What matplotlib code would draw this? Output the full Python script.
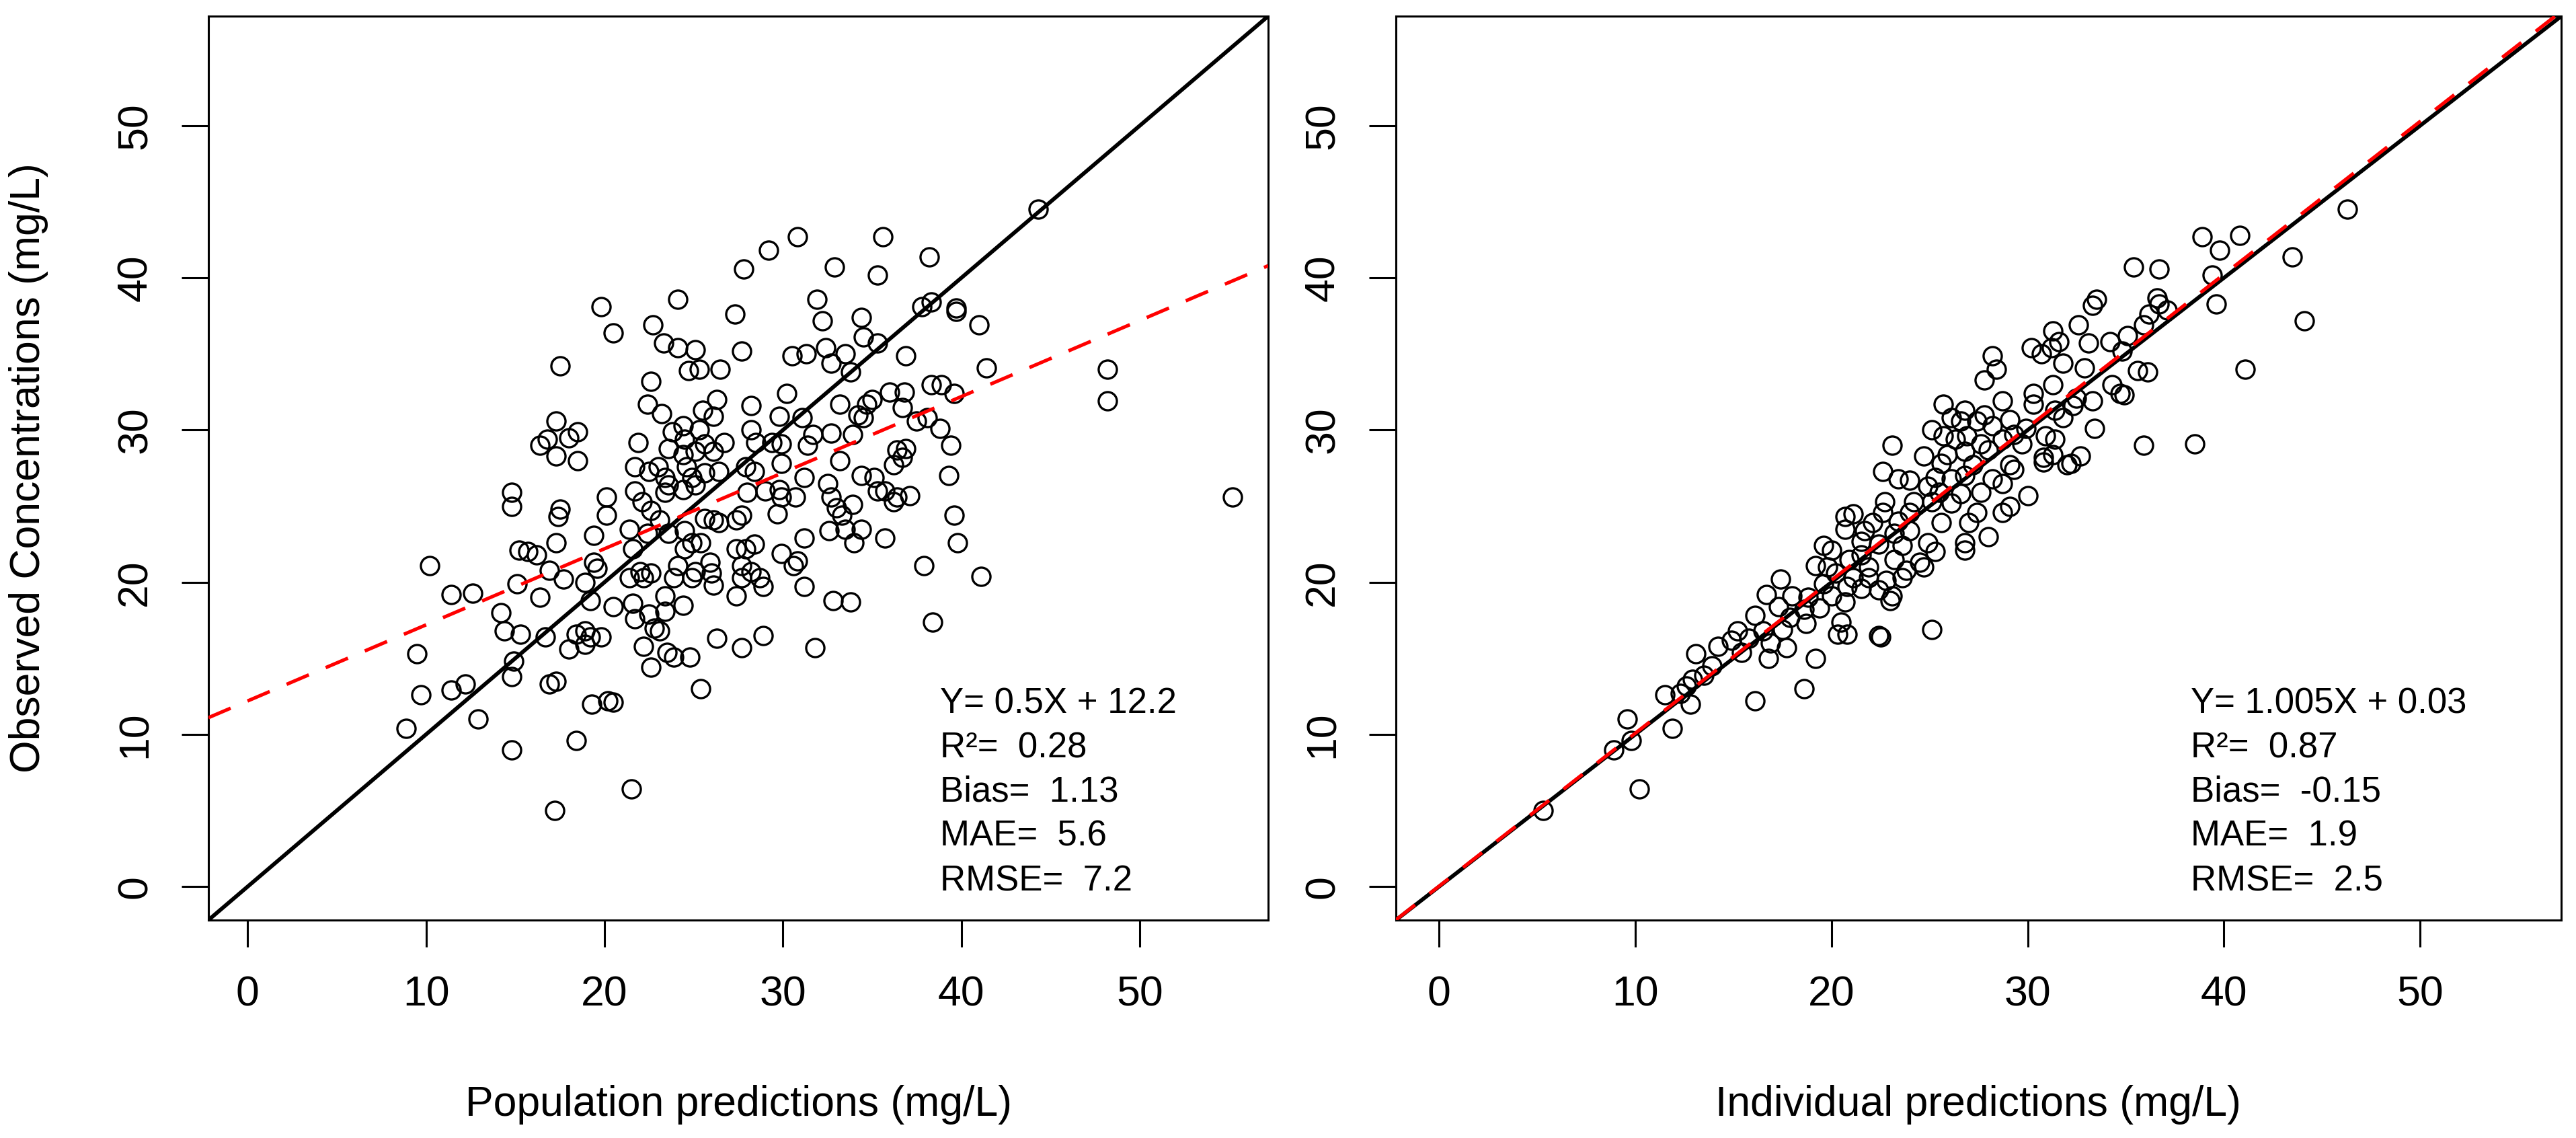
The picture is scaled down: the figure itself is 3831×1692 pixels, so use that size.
import numpy as np
import matplotlib.pyplot as plt

plt.rcParams['font.family'] = ['Liberation Sans', 'DejaVu Sans']

# ---------------------------------------------------------
# data: (prediction, observed) pairs
# ---------------------------------------------------------
pop_points = [
    (44.3, 44.5), (30.8, 42.7), (29.2, 41.8), (35.6, 42.7), (38.2, 41.4),
    (27.8, 40.6), (32.9, 40.7), (35.3, 40.2), (19.8, 38.1), (24.1, 38.6),
    (27.3, 37.6), (31.9, 38.6), (37.8, 38.1), (38.3, 38.4), (39.7, 38.0),
    (39.7, 37.8), (32.2, 37.2), (34.4, 37.4), (41.0, 36.9), (20.5, 36.4),
    (22.7, 36.9), (34.5, 36.1), (23.3, 35.7), (24.1, 35.4), (25.1, 35.3),
    (27.7, 35.2), (32.4, 35.4), (35.3, 35.7), (17.5, 34.2), (30.5, 34.9),
    (31.3, 35.0), (33.5, 35.0), (36.9, 34.9), (32.7, 34.4), (41.4, 34.1),
    (24.7, 33.9), (25.3, 34.0), (26.5, 34.0), (33.8, 33.8), (48.2, 34.0),
    (38.3, 33.0), (38.9, 33.0), (39.6, 32.4), (36.0, 32.5), (36.8, 32.5),
    (35.0, 32.0), (34.7, 31.7), (33.2, 31.7), (48.2, 31.9), (17.3, 30.6),
    (36.7, 31.5), (34.2, 31.0), (34.5, 30.8), (31.1, 30.8), (18.5, 29.9),
    (18.0, 29.5), (16.8, 29.4), (16.4, 29.0), (17.3, 28.3), (18.5, 28.0),
    (31.7, 29.7), (32.7, 29.8), (33.9, 29.7), (37.5, 30.6), (38.1, 30.8),
    (38.8, 30.1), (39.4, 29.0), (31.4, 29.0), (36.4, 28.7), (36.9, 28.8),
    (36.7, 28.2), (36.2, 27.7), (33.2, 28.0), (31.2, 26.9), (32.5, 26.5),
    (34.4, 27.0), (35.1, 26.9), (39.3, 27.0), (35.3, 26.0), (35.7, 26.0),
    (36.4, 25.6), (37.1, 25.7), (36.2, 25.3), (55.2, 25.6), (14.8, 25.9),
    (14.8, 25.0), (30.7, 25.6), (32.7, 25.6), (33.0, 24.9), (33.3, 24.4),
    (33.9, 25.1), (17.5, 24.8), (17.4, 24.3), (32.6, 23.4), (33.5, 23.5),
    (34.4, 23.5), (39.6, 24.4), (31.2, 22.9), (35.7, 22.9), (34.0, 22.6),
    (39.8, 22.6), (17.3, 22.6), (15.2, 22.1), (15.7, 22.0), (16.2, 21.8),
    (10.2, 21.1), (30.6, 21.1), (30.8, 21.4), (37.9, 21.1), (16.9, 20.8),
    (17.7, 20.2), (31.2, 19.7), (41.1, 20.4), (15.1, 19.9), (11.4, 19.2),
    (12.6, 19.3), (16.4, 19.0), (32.8, 18.8), (33.8, 18.7), (14.2, 18.0),
    (14.4, 16.8), (15.3, 16.6), (16.7, 16.4), (18.4, 16.6), (18.9, 16.8),
    (19.2, 16.4), (19.8, 16.4), (23.1, 16.8), (38.4, 17.4), (18.0, 15.6),
    (18.9, 15.9), (22.2, 15.8), (23.5, 15.4), (23.9, 15.1), (24.8, 15.1),
    (26.3, 16.3), (27.7, 15.7), (28.9, 16.5), (31.8, 15.7), (9.5, 15.3),
    (14.9, 14.8), (14.8, 13.8), (22.6, 14.4), (25.4, 13.0), (16.9, 13.3),
    (17.3, 13.5), (11.4, 12.9), (12.2, 13.3), (9.7, 12.6), (12.9, 11.0),
    (8.9, 10.4), (19.3, 12.0), (20.2, 12.2), (20.5, 12.1), (14.8, 9.0),
    (18.4, 9.6), (21.5, 6.4), (17.2, 5.0),
    # dense core, read from a closer look
    (22.6, 33.2), (22.4, 31.7), (23.2, 31.1), (26.3, 32.0), (25.5, 31.3),
    (26.1, 30.9), (28.2, 31.6), (30.2, 32.4), (29.8, 30.9), (21.9, 29.2),
    (23.8, 29.9), (24.4, 30.3), (24.5, 29.4), (25.3, 30.0), (25.6, 29.1),
    (26.7, 29.2), (28.2, 30.0), (28.5, 29.2), (29.4, 29.2), (29.9, 29.1),
    (23.6, 28.8), (24.4, 28.4), (25.1, 28.6), (26.1, 28.6), (21.7, 27.6),
    (22.5, 27.3), (23.0, 27.6), (23.4, 26.9), (23.6, 26.4), (24.6, 27.6),
    (24.9, 26.9), (25.6, 27.2), (26.4, 27.3), (27.9, 27.6), (28.4, 27.3),
    (29.9, 27.8), (21.7, 26.0), (22.1, 25.3), (22.6, 24.7), (23.4, 25.9),
    (24.4, 26.1), (25.1, 26.4), (28.0, 25.9), (29.0, 26.0), (29.8, 26.1),
    (29.9, 25.6), (29.7, 24.5), (20.1, 25.6), (20.1, 24.4), (21.4, 23.5),
    (19.4, 23.1), (23.1, 24.1), (25.6, 24.2), (26.1, 24.1), (26.4, 23.9),
    (27.4, 24.1), (27.7, 24.4), (22.4, 23.2), (23.6, 23.2), (24.5, 23.4),
    (24.9, 22.6), (25.4, 22.6), (24.5, 22.2), (21.6, 22.2), (19.4, 21.3),
    (19.6, 20.9), (21.4, 20.3), (22.0, 20.7), (22.2, 20.3), (22.6, 20.6),
    (24.1, 21.1), (25.1, 20.7), (25.9, 21.3), (26.0, 20.6), (26.1, 19.8),
    (24.9, 20.3), (23.9, 20.3), (27.4, 22.2), (27.9, 22.2), (28.4, 22.5),
    (27.7, 21.1), (28.2, 20.7), (27.7, 20.3), (28.7, 20.3), (28.9, 19.7),
    (27.4, 19.1), (29.9, 21.9), (18.9, 20.0), (19.2, 18.8), (20.5, 18.4),
    (21.6, 18.6), (21.7, 17.6), (22.5, 17.9), (23.4, 19.1), (23.4, 18.1),
    (24.4, 18.5), (22.8, 17.0),
]

ind_points = [
    (46.3, 44.5), (38.9, 42.7), (40.8, 42.8), (39.8, 41.8), (43.5, 41.4),
    (35.4, 40.7), (36.7, 40.6), (39.4, 40.2), (33.5, 38.6), (33.3, 38.2),
    (36.6, 38.7), (36.7, 38.3), (37.1, 37.9), (39.6, 38.3), (44.1, 37.2),
    (36.2, 37.6), (35.9, 36.9), (32.6, 36.9), (31.3, 36.5), (35.1, 36.2),
    (34.2, 35.8), (33.1, 35.7), (30.2, 35.4), (31.2, 35.4), (31.6, 35.8),
    (30.7, 35.0), (28.2, 34.9), (34.8, 35.2), (31.8, 34.4), (28.4, 34.0),
    (35.6, 33.9), (36.1, 33.8), (41.1, 34.0), (32.9, 34.1), (27.8, 33.3),
    (31.3, 33.0), (34.3, 33.0), (34.7, 32.4), (34.9, 32.3), (30.3, 32.4),
    (32.5, 32.1), (25.7, 31.7), (28.7, 31.9), (32.3, 31.6), (33.3, 31.9),
    (31.4, 31.3), (30.3, 31.7), (26.8, 31.3), (27.8, 31.0), (26.1, 30.8),
    (26.6, 30.6), (27.4, 30.6), (28.2, 30.3), (29.1, 30.7), (29.9, 30.1),
    (31.8, 30.8), (25.1, 30.0), (33.4, 30.1), (35.9, 29.0), (38.5, 29.1),
    (23.1, 29.0), (25.7, 29.6), (26.3, 29.4), (26.9, 29.6), (27.6, 29.1),
    (28.7, 29.4), (29.3, 29.7), (29.7, 29.1), (30.9, 29.6), (31.4, 29.4),
    (25.9, 28.4), (26.8, 28.6), (28.0, 28.7), (24.7, 28.3), (30.8, 28.2),
    (32.7, 28.3), (31.3, 28.4), (30.8, 27.9), (32.0, 27.7), (32.2, 27.8),
    (25.6, 27.8), (27.2, 27.7), (29.1, 27.7), (29.3, 27.4), (22.6, 27.3),
    (23.4, 26.8), (24.0, 26.7), (25.3, 26.9), (26.1, 26.8), (26.8, 27.0),
    (28.2, 26.8), (28.7, 26.5), (24.9, 26.3), (25.5, 25.9), (26.6, 25.8),
    (27.6, 25.9), (22.7, 25.3), (24.2, 25.3), (30.0, 25.7), (25.1, 25.3),
    (26.1, 25.2), (29.1, 25.0), (22.6, 24.6), (24.0, 24.6), (27.4, 24.6),
    (28.7, 24.6), (20.7, 24.3), (21.1, 24.5), (22.1, 23.9), (23.4, 24.0),
    (25.6, 23.9), (27.0, 23.9), (20.7, 23.5), (21.7, 23.4), (23.2, 23.2),
    (24.0, 23.4), (28.0, 23.0), (19.6, 22.4), (20.0, 22.1), (21.5, 22.7),
    (22.4, 22.5), (23.6, 22.4), (24.9, 22.6), (26.8, 22.6), (26.8, 22.1),
    (25.3, 22.0), (20.9, 21.5), (21.5, 21.8), (23.2, 21.5), (24.5, 21.3),
    (19.2, 21.1), (19.8, 21.0), (21.9, 21.0), (23.8, 20.8), (24.7, 21.0),
    (20.2, 20.6), (21.1, 20.3), (21.9, 20.3), (22.8, 20.1), (23.6, 20.3),
    (17.4, 20.2), (19.6, 19.9), (20.8, 19.7), (21.5, 19.6), (22.4, 19.5),
    (16.7, 19.2), (18.0, 19.1), (18.8, 19.0), (20.0, 19.1), (23.1, 19.1),
    (23.0, 18.8), (17.3, 18.4), (18.6, 18.2), (19.4, 18.3), (20.7, 18.7),
    (16.1, 17.8), (17.9, 17.7), (18.7, 17.3), (20.5, 17.4), (22.4, 16.5),
    (22.5, 16.4), (25.1, 16.9), (20.3, 16.6), (20.8, 16.6), (15.2, 16.8),
    (16.5, 16.8), (17.5, 16.9), (14.9, 16.2), (15.8, 16.3), (16.9, 16.0),
    (17.7, 15.7), (15.4, 15.4), (14.2, 15.8), (13.1, 15.3), (16.8, 15.0),
    (19.2, 15.0), (13.9, 14.5), (13.5, 13.9), (12.9, 13.6), (12.6, 13.2),
    (18.6, 13.0), (11.5, 12.6), (12.3, 12.7), (12.8, 12.0), (16.1, 12.2),
    (11.9, 10.4), (9.6, 11.0), (9.8, 9.6), (8.9, 9.0), (10.2, 6.4),
    (5.3, 5.0),
]

ticks = [0, 10, 20, 30, 40, 50]
limits = (-2.2, 57.2)

# regression line (slope, intercept) and text box lines for each panel
pop_fit = (0.5, 12.2)
ind_fit = (1.005, 0.03)
pop_stats = ['Y= 0.5X + 12.2', 'R\u00b2=  0.28', 'Bias=  1.13', 'MAE=  5.6', 'RMSE=  7.2']
ind_stats = ['Y= 1.005X + 0.03', 'R\u00b2=  0.87', 'Bias=  -0.15', 'MAE=  1.9', 'RMSE=  2.5']
stats_y = [12.0, 9.1, 6.2, 3.3, 0.35]

# ---------------------------------------------------------
# figure
# ---------------------------------------------------------
fig = plt.figure(figsize=(38.31, 16.92), dpi=100)
ax1 = fig.add_axes([0.0809, 0.1915, 0.4114, 0.7943])
ax2 = fig.add_axes([0.5419, 0.1915, 0.4524, 0.7943])


def draw_panel(ax, points, fit, stats, stats_x):
    pts = np.array(points)
    ax.plot(pts[:, 0], pts[:, 1], 'o', markersize=19.5,
            markerfacecolor='none', markeredgecolor='black',
            markeredgewidth=2.4, zorder=2)

    # identity line and fitted line
    ax.axline((0, 0), slope=1, color='black', linewidth=4.2, zorder=3)
    ax.axline((0, fit[1]), slope=fit[0], color='red', linewidth=3.7,
              linestyle=(0, (7.0, 5.3)), zorder=4)

    for s, y in zip(stats, stats_y):
        ax.text(stats_x, y, s, fontsize=38, ha='left', va='center')

    ax.set_xlim(limits)
    ax.set_ylim(limits)
    ax.set_xticks(ticks)
    ax.set_yticks(ticks)
    ax.tick_params(axis='both', length=29, width=2.2, labelsize=45,
                   direction='out')
    ax.tick_params(axis='x', pad=30)
    ax.tick_params(axis='y', pad=28, labelrotation=90)
    for lab in ax.get_yticklabels():
        lab.set_va('center')
    for sp in ax.spines.values():
        sp.set_linewidth(2.2)


draw_panel(ax1, pop_points, pop_fit, pop_stats, 38.8)
draw_panel(ax2, ind_points, ind_fit, ind_stats, 38.3)

fig.text(43 / 3831, 0.5886, 'Observed Concentrations (mg/L)', rotation=90,
         fontsize=45, ha='center', va='center')
fig.text(1098 / 3831, 1 - 1642 / 1692, 'Population predictions (mg/L)',
         fontsize=45, ha='center', va='center')
fig.text(2942 / 3831, 1 - 1642 / 1692, 'Individual predictions (mg/L)',
         fontsize=45, ha='center', va='center')

plt.savefig('out.png', dpi=100)
